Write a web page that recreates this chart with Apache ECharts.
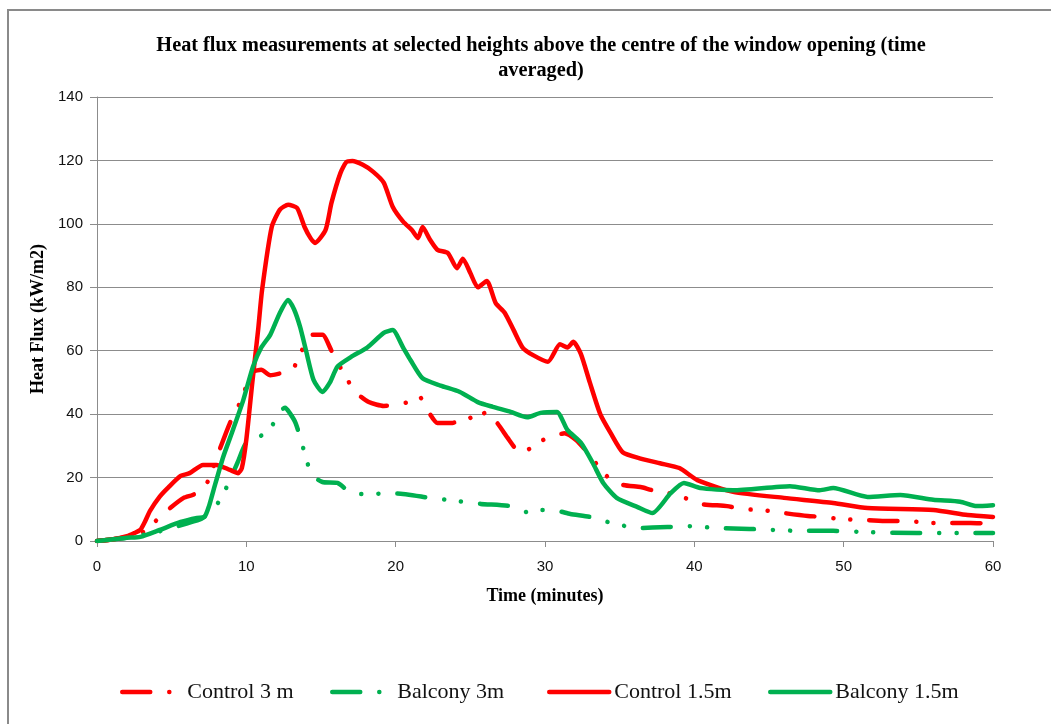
<!DOCTYPE html>
<html>
<head>
<meta charset="utf-8">
<title>Heat flux measurements</title>
<script src="https://cdn.jsdelivr.net/npm/echarts@6/dist/echarts.min.js"></script>
<style>
  html, body { margin: 0; padding: 0; background: #fff; }
  #chart { width: 1051px; height: 724px; }
</style>
</head>
<body>
<div id="chart"></div>
<script>
// values (time in minutes, heat flux in kW/m2)
const seriesNames = ['Control 3 m', 'Balcony 3m', 'Control 1.5m', 'Balcony 1.5m'];
const xTicks = [0, 10, 20, 30, 40, 50, 60];
const yTicks = [0, 20, 40, 60, 80, 100, 120, 140];

const control3Time = [0, 1, 2, 3.1, 4, 4.9, 5.8, 6.4, 7, 7.4, 8.2, 8.9, 9.45, 9.9, 10.45, 11, 11.6, 12.4, 13.1, 13.6,
  14.4, 15.1, 15.7, 16.5, 17.3, 18.2, 19.2, 20.1, 21, 21.6, 22.2, 22.8, 23.8, 24.8, 25.2, 26.1, 26.8, 27.5, 28.1, 28.5,
  29.5, 30.5, 31.3, 32.1, 32.7, 33.5, 34.2, 35.2, 36.4, 37.2, 38.2, 39.2, 40.4, 42.2, 43.3, 44.5, 46, 47.6, 48.6, 49.8,
  51.6, 52.9, 54.1, 56, 57.1, 58.5, 60];
const control3Flux = [0, 0.5, 1.2, 2.8, 6.6, 10.4, 13.6, 14.5, 16, 18.6, 28.7, 37.2, 42.3, 47.6, 53.3, 54, 52.3, 53, 54, 59,
  65, 65, 60, 53, 47, 43.8, 42.6, 43, 44, 45.4, 40.7, 37.2, 37.2, 39.7, 38, 40.7, 37.2, 32.5, 28.7, 27.7,
  31.2, 32.8, 34, 31.8, 28.7, 24, 20.2, 17.7, 17, 16, 15.2, 13.9, 11.7, 11, 10, 9.8, 8.8, 7.9, 7.6, 6.9,
  6.6, 6.3, 6.3, 5.7, 5.7, 5.7, 5.4];

const balcony3Time = [0, 2, 4, 6, 7, 7.5, 8.1, 8.65, 9.4, 10, 10.9, 11.6, 12.1, 12.6, 12.9, 13.3, 13.7, 14, 14.4, 15.1,
  16.1, 17.1, 18.2, 19.3, 20.1, 22.3, 23.4, 25.7, 27.7, 28.8, 29.8, 30.5, 31.7, 33, 34.2, 36.2, 38.2, 39.5, 41.5, 43.7,
  47.1, 49.3, 51.6, 54.9, 58.5, 60];
const balcony3Flux = [0, 1, 2.8, 5.5, 7, 9, 12, 16.7, 24.6, 31, 33, 35, 40.4, 42, 40.4, 37.2, 31.2, 26, 20.8, 18.6,
  18.3, 15, 14.8, 15, 15, 13.6, 13, 11.7, 11, 9.1, 9.8, 9.8, 8.5, 7.6, 6, 4.1, 4.4, 4.7, 4.1, 3.8,
  3.2, 3.2, 2.8, 2.5, 2.5, 2.5];

const control15Time = [0, 1, 2, 2.5, 2.9, 3.2, 3.55, 4.2, 4.8, 5.6, 6.2, 7.1, 8, 8.9, 9.45, 9.7, 10, 10.4, 10.8, 11.05,
  11.7, 12.25, 12.8, 13.4, 13.9, 14.3, 14.6, 15.3, 15.7, 16.3, 16.7, 17.1, 17.8, 18.5, 19.2, 19.8, 20.5, 21.1, 21.5, 21.8,
  22.3, 22.8, 23.5, 24.1, 24.5, 25, 25.5, 26.1, 26.7, 27.3, 27.9, 28.5, 29.2, 30.2, 31, 31.5, 31.9, 32.4, 33, 33.7,
  34.4, 35.2, 36.4, 37.7, 39, 40.2, 42.6, 46, 49.3, 51.6, 56, 58.3, 60];
const control15Flux = [0, 0.5, 1.5, 2.5, 3.5, 6, 9.5, 14, 17, 20.5, 21.4, 24, 24, 22.4, 21.4, 23, 32, 50, 67, 79,
  99, 104.5, 106, 105, 99, 95.5, 94, 98, 106.6, 116, 119.5, 119.8, 118.6, 116.4, 113, 105.4, 100.7, 98, 95.5, 99,
  95, 91.8, 90.8, 86, 89, 84.5, 80, 82, 75, 72, 66.5, 61, 58.6, 56.5, 62, 61, 62.8, 59, 50, 40,
  34, 28, 26, 24.5, 23, 19.2, 15.5, 13.6, 12, 10.4, 9.8, 8.2, 7.6];

const balcony15Time = [0, 1, 2, 2.9, 4.2, 5.6, 6.7, 7.2, 7.5, 7.8, 8.45, 9.1, 9.8, 10.45, 11, 11.6, 12.25, 12.8, 13.2, 13.6,
  14, 14.5, 15.1, 15.6, 16.1, 17, 18.1, 19.2, 19.8, 20.5, 21, 21.8, 23, 24.3, 25.5, 26.5, 27.7, 28.8, 29.7, 30.8,
  31.5, 32.4, 33.2, 33.9, 34.8, 36.2, 37.2, 38.4, 39.3, 40.4, 42.6, 46.4, 48.4, 49.3, 51.6, 53.8, 56, 57.8, 58.9, 60];
const balcony15Flux = [0, 0.5, 1, 1.3, 3.5, 6, 7.3, 7.6, 11, 16, 26.5, 35, 44.5, 55, 61, 65, 72, 76, 73, 67.5,
  60, 50.8, 47, 50, 55, 58, 61, 65.6, 66.5, 61, 57, 51.3, 49, 47, 43.8, 42.3, 40.7, 39, 40.4, 40.7,
  35, 31, 24.6, 18.3, 13.6, 10.7, 8.8, 15, 18.3, 16.7, 16, 17.3, 16, 16.7, 13.9, 14.5, 13, 12.4, 11, 11.3];

const RED = '#ff0000';
const GREEN = '#00b050';
const GRID_GRAY = '#8c8c8c';
// long dash, dot, dot
const DASH_DOT_DOT = [28, 19, 0.1, 17, 0.1, 19];

const toPairs = (xs, ys) => xs.map((x, i) => [x, ys[i]]);

const lineSeries = (name, xs, ys, color, dashed) => ({
  name,
  type: 'line',
  data: toPairs(xs, ys),
  showSymbol: false,
  symbol: 'none',
  smooth: 0.2,
  z: dashed ? 2 : 3,
  lineStyle: {
    color,
    width: 4.5,
    type: dashed ? DASH_DOT_DOT : 'solid',
    cap: 'round',
    join: 'round',
  },
  itemStyle: { color },
});

// one legend per entry so each item sits where the reference has it
const legendAt = (name, left) => ({
  data: [name],
  left,
  top: 681,
  itemWidth: 60,
  itemHeight: 14,
  padding: 0,
  itemStyle: { opacity: 0 },
  lineStyle: { width: 4.5, cap: 'round' },
  textStyle: {
    fontFamily: 'Liberation Serif',
    fontSize: 22,
    color: '#111',
  },
});

const chart = echarts.init(document.getElementById('chart'), null, { renderer: 'canvas' });

chart.setOption({
  animation: false,
  backgroundColor: '#fff',
  title: {
    text: 'Heat flux measurements at selected heights above the centre of the window opening (time\naveraged)',
    left: 536,
    top: 28,
    textAlign: 'center',
    textStyle: {
      fontFamily: 'Liberation Serif',
      fontWeight: 'bold',
      fontSize: 20.3,
      lineHeight: 25,
      color: '#000',
    },
  },
  graphic: [
    {
      type: 'rect',
      shape: { x: 8, y: 10, width: 1080, height: 760 },
      style: { fill: 'none', stroke: '#8a8a8a', lineWidth: 2 },
      silent: true,
      z: -1,
    },
  ],
  legend: [
    legendAt(seriesNames[0], 120),
    legendAt(seriesNames[1], 330),
    legendAt(seriesNames[2], 547),
    legendAt(seriesNames[3], 768),
  ],
  grid: {
    left: 97,
    right: 58,
    top: 97,
    bottom: 183,
    containLabel: false,
  },
  xAxis: {
    type: 'value',
    min: xTicks[0],
    max: xTicks[xTicks.length - 1],
    interval: 10,
    name: 'Time (minutes)',
    nameLocation: 'middle',
    nameGap: 46,
    nameTextStyle: {
      fontFamily: 'Liberation Serif',
      fontWeight: 'bold',
      fontSize: 18,
      color: '#000',
    },
    axisLine: { lineStyle: { color: GRID_GRAY, width: 1 } },
    axisTick: { show: true, inside: false, length: 6, lineStyle: { color: GRID_GRAY } },
    axisLabel: {
      fontFamily: 'Liberation Sans',
      fontSize: 15,
      color: '#111',
      margin: 18,
    },
    splitLine: { show: false },
  },
  yAxis: {
    type: 'value',
    min: yTicks[0],
    max: yTicks[yTicks.length - 1],
    interval: 20,
    name: 'Heat Flux (kW/m2)',
    nameLocation: 'middle',
    nameRotate: 90,
    nameGap: 48,
    nameTextStyle: {
      fontFamily: 'Liberation Serif',
      fontWeight: 'bold',
      fontSize: 18,
      color: '#000',
    },
    axisLine: { show: true, lineStyle: { color: GRID_GRAY, width: 1 } },
    axisTick: { show: true, inside: false, length: 7, lineStyle: { color: GRID_GRAY } },
    axisLabel: {
      fontFamily: 'Liberation Sans',
      fontSize: 15,
      color: '#111',
      margin: 14,
    },
    splitLine: { show: true, lineStyle: { color: GRID_GRAY, width: 1 } },
  },
  series: [
    lineSeries(seriesNames[0], control3Time, control3Flux, RED, true),
    lineSeries(seriesNames[1], balcony3Time, balcony3Flux, GREEN, true),
    lineSeries(seriesNames[2], control15Time, control15Flux, RED, false),
    lineSeries(seriesNames[3], balcony15Time, balcony15Flux, GREEN, false),
  ],
});
</script>
</body>
</html>
